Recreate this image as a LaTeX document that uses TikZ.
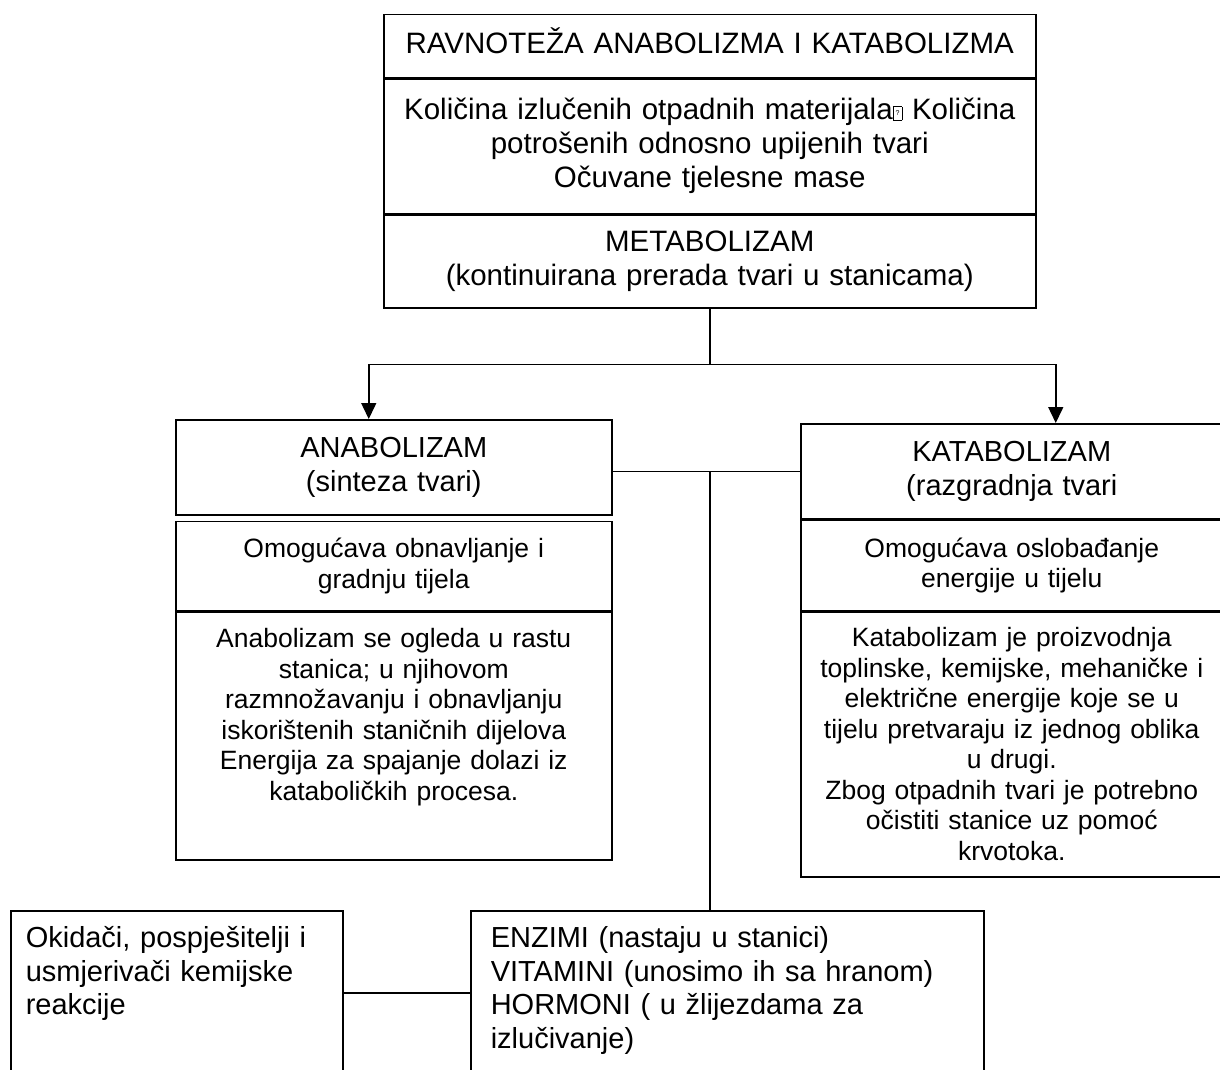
\documentclass[tikz,border=0pt]{standalone}
\usepackage{fontspec}
\setmainfont{Liberation Sans}
\usetikzlibrary{positioning,calc,arrows.meta}

\newcommand{\bigfont}{\fontsize{29.5}{34}\selectfont}
\newcommand{\titlefont}{\fontsize{29}{33.5}\selectfont}
\newcommand{\bodyfont}{\fontsize{26.5}{30.5}\selectfont}
\newcommand{\nochar}{{\fboxsep=0pt\fboxrule=0.7pt\fbox{\parbox[b][13pt][c]{8pt}{\centering\fontsize{7}{7}\selectfont ?}}}}

\begin{document}
\begin{tikzpicture}[x=1pt, y=-1pt, line width=1.5pt, >={Triangle[length=16pt,width=15pt]},
  every node/.style={draw, rectangle, inner sep=0pt, align=center}]
\clip (0,0) rectangle (1220,1070);

% top box
\node (ravnoteza) [anchor=north west, text width=652pt, minimum height=63pt, text height=21pt, text depth=6pt, font=\bigfont] at (383,14) {RAVNOTEŽA ANABOLIZMA I KATABOLIZMA};
\node (kolicina) [below=0pt of ravnoteza, text width=652pt, minimum height=134pt, font=\bigfont] {Količina izlučenih otpadnih materijala\nochar{} Količina\\potrošenih odnosno upijenih tvari\\Očuvane tjelesne mase};
\node (metabolizam) [below=0pt of kolicina, text width=652pt, minimum height=93pt, font=\bigfont] {METABOLIZAM\\(kontinuirana prerada tvari u stanicama)};

% anabolizam side
\node (anabolizam) [anchor=north west, text width=436pt, minimum height=95pt, font=\titlefont] at (175,419) {ANABOLIZAM\\(sinteza tvari)};
\node (ana-omog) [below=5pt of anabolizam, text width=436pt, minimum height=89pt, font=\bodyfont] {Omogućava obnavljanje i\\gradnju tijela};
\node (ana-tekst) [below=0pt of ana-omog, text width=436pt, text height=36pt, text depth=212pt, font=\bodyfont] {Anabolizam se ogleda u rastu\\stanica; u njihovom\\razmnožavanju i obnavljanju\\iskorištenih staničnih dijelova\\Energija za spajanje dolazi iz\\kataboličkih procesa.};

% katabolizam side
\node (katabolizam) [anchor=north west, text width=422pt, minimum height=95pt, font=\titlefont] at (800,423) {KATABOLIZAM\\(razgradnja tvari};
\node (kat-omog) [below=0pt of katabolizam, text width=422pt, minimum height=90pt, font=\bodyfont] {Omogućava oslobađanje\\energije u tijelu};
\node (kat-tekst) [below=0pt of kat-omog, text width=422pt, minimum height=265pt, font=\bodyfont] {Katabolizam je proizvodnja\\toplinske, kemijske, mehaničke i\\električne energije koje se u\\tijelu pretvaraju iz jednog oblika\\u drugi.\\Zbog otpadnih tvari je potrebno\\očistiti stanice uz pomoć\\krvotoka.};

% bottom boxes
\node (okidaci) [anchor=north west, align=left, inner xsep=15pt, text width=302pt, text height=37pt, text depth=133pt, font=\titlefont] at (10,910) {Okidači, pospješitelji i\\usmjerivači kemijske\\reakcije};
\node (enzimi) [anchor=north west, align=left, inner xsep=20pt, text width=473pt, text height=37pt, text depth=133pt, font=\titlefont] at (470,910) {ENZIMI (nastaju u stanici)\\VITAMINI (unosimo ih sa hranom)\\HORMONI ( u žlijezdama za\\izlučivanje)};

% connectors
\draw (metabolizam.south) -- ++(0,56) coordinate (razdvoj);
\draw[->] (razdvoj) -| ([xshift=-25pt]anabolizam.north);
\draw[->] (razdvoj) -| ([xshift=44pt]katabolizam.north);
\draw (anabolizam.east |- katabolizam.west) -- (katabolizam.west);
\draw (katabolizam.west -| metabolizam.south) -- (enzimi.north -| metabolizam.south);
\draw ([yshift=-83pt]okidaci.north east) -- ([yshift=-83pt]enzimi.north west);
\end{tikzpicture}
\end{document}
